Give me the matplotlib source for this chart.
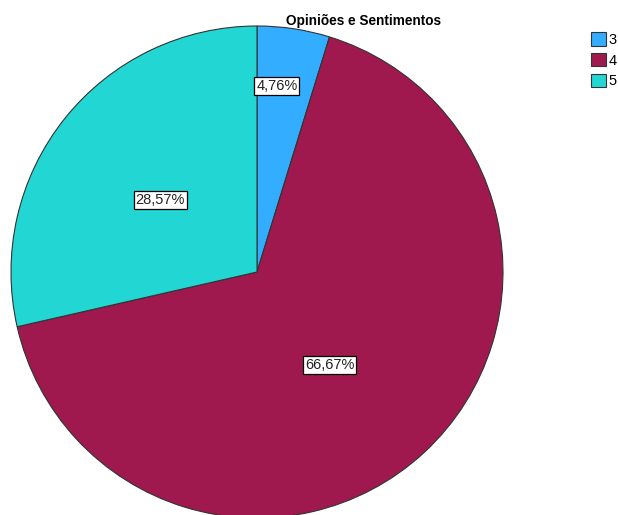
import numpy as np
import matplotlib
matplotlib.use('Agg')
import matplotlib.pyplot as plt

plt.rcParams['font.family'] = ['Liberation Sans', 'DejaVu Sans']

categories = ['3', '4', '5']
counts = [1, 14, 6]
colors = ['#33adff', '#a0194e', '#22d6d3']
# where each percent label sits: fraction of radius, and angle nudge (deg)
label_r = [0.76, 0.48, 0.49]
label_shift = [2.5, -4.8, 2.0]

fig = plt.figure(figsize=(6.18, 5.15), dpi=100)
ax = fig.add_axes([11/618, -3/515, 492/618, 492/515])

wedges, _ = ax.pie(counts, colors=colors, startangle=90, counterclock=False,
                   radius=1.0, wedgeprops=dict(edgecolor='#333333', linewidth=0.8))
ax.set_xlim(-1, 1)
ax.set_ylim(-1, 1)
ax.set_aspect('auto')
ax.axis('off')

total = float(sum(counts))
for w, c, r, s in zip(wedges, counts, label_r, label_shift):
    ang = np.deg2rad((w.theta1 + w.theta2) / 2.0 + s)
    pct = '%.2f%%' % (100.0 * c / total)
    ax.text(r * np.cos(ang), r * np.sin(ang), pct.replace('.', ','),
            ha='center', va='center', fontsize=10.5, color='#222222',
            bbox=dict(boxstyle='square,pad=0.12', fc='white', ec='black', lw=0.9))

fig.text(363/618, 1 - 21/515, 'Opiniões e Sentimentos', ha='center', va='center',
         fontsize=9.8, fontweight='bold')

leg = fig.legend(wedges, categories, loc='upper left', bbox_to_anchor=(591/618, 1 - 32/515),
                 frameon=False, fontsize=10.5, handlelength=1.05, handleheight=1.05,
                 handletextpad=0.15, labelspacing=0.42, borderpad=0, borderaxespad=0)

plt.savefig('out.png', dpi=100)
